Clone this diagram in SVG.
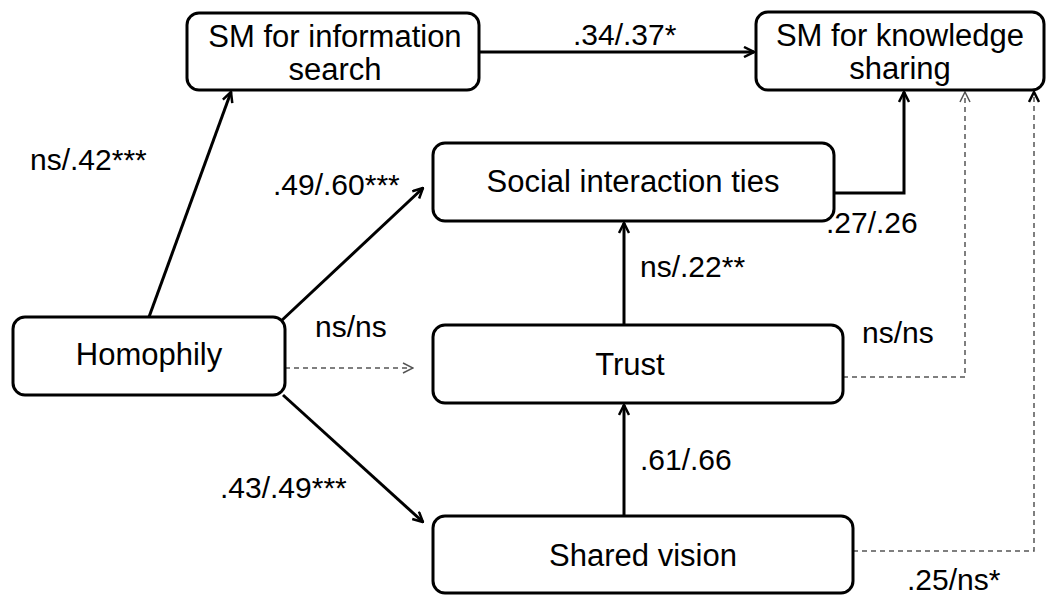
<svg xmlns="http://www.w3.org/2000/svg" width="1046" height="595" viewBox="0 0 1046 595">
<defs>
<style>
.box{fill:#fff;stroke:#000;stroke-width:3}
.t{font-family:"Liberation Sans",Arial,sans-serif;font-size:31px;fill:#000;text-anchor:middle}
.l{font-family:"Liberation Sans",Arial,sans-serif;font-size:30px;fill:#000}
.solid{fill:none;stroke:#000;stroke-width:3}
.dash{fill:none;stroke:#555;stroke-width:1.5;stroke-dasharray:5,4}
</style>
<marker id="ah" viewBox="0 0 12 12" refX="11" refY="6" markerWidth="12" markerHeight="12" markerUnits="userSpaceOnUse" orient="auto">
<path d="M1,1 L11,6 L1,11" fill="none" stroke="#000" stroke-width="2.5"/>
</marker>
<marker id="ahd" viewBox="0 0 12 12" refX="11" refY="6" markerWidth="12" markerHeight="12" markerUnits="userSpaceOnUse" orient="auto">
<path d="M1,1 L11,6 L1,11" fill="none" stroke="#555" stroke-width="1.5"/>
</marker>
</defs>
<rect width="1046" height="595" fill="#fff"/>
<g id="connectors">
<line class="solid" x1="479" y1="52" x2="754" y2="52" marker-end="url(#ah)"/>
<line class="solid" x1="149" y1="317" x2="231" y2="92" marker-end="url(#ah)"/>
<line class="solid" x1="280" y1="322" x2="423" y2="188" marker-end="url(#ah)"/>
<line class="solid" x1="283" y1="395" x2="423" y2="522" marker-end="url(#ah)"/>
<line class="dash" x1="285" y1="368" x2="413" y2="368" marker-end="url(#ahd)"/>
<line class="solid" x1="624" y1="325" x2="624" y2="223" marker-end="url(#ah)"/>
<line class="solid" x1="624" y1="516" x2="624" y2="405" marker-end="url(#ah)"/>
<polyline class="solid" points="834,193 904,193 904,92" marker-end="url(#ah)"/>
<polyline class="dash" points="843,377 965,377 965,92" marker-end="url(#ahd)"/>
<polyline class="dash" points="853,551 1034,551 1034,92" marker-end="url(#ah)"/>
</g>
<g id="labels">
<text class="l" x="573" y="45">.34/.37*</text>
<text class="l" x="30" y="170">ns/.42***</text>
<text class="l" x="273" y="195">.49/.60***</text>
<text class="l" x="315" y="337">ns/ns</text>
<text class="l" x="826" y="233">.27/.26</text>
<text class="l" x="640" y="277">ns/.22**</text>
<text class="l" x="862" y="343">ns/ns</text>
<text class="l" x="640" y="470">.61/.66</text>
<text class="l" x="220" y="498">.43/.49***</text>
<text class="l" x="907" y="590">.25/ns*</text>
</g>
<g id="n-info">
<rect class="box" x="187" y="13" width="292" height="77" rx="12"/>
<text class="t" x="335" y="47">SM for information</text>
<text class="t" x="335" y="80">search</text>
</g>
<g id="n-know">
<rect class="box" x="756" y="12" width="288" height="78" rx="12"/>
<text class="t" x="900" y="46">SM for knowledge</text>
<text class="t" x="900" y="79">sharing</text>
</g>
<g id="n-social">
<rect class="box" x="433" y="143" width="401" height="78" rx="12"/>
<text class="t" x="633" y="192">Social interaction ties</text>
</g>
<g id="n-homophily">
<rect class="box" x="13" y="317" width="272" height="78" rx="12"/>
<text class="t" x="149" y="365">Homophily</text>
</g>
<g id="n-trust">
<rect class="box" x="433" y="325" width="410" height="78" rx="12"/>
<text class="t" x="630" y="375">Trust</text>
</g>
<g id="n-shared">
<rect class="box" x="433" y="516" width="420" height="77" rx="12"/>
<text class="t" x="643" y="566">Shared vision</text>
</g>
</svg>
